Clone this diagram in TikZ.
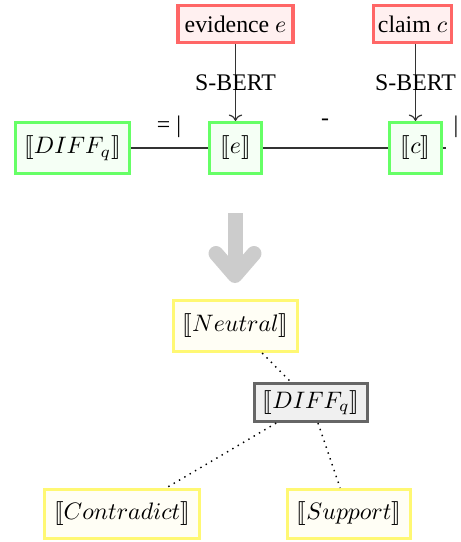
\documentclass[tikz,border=0pt]{standalone}
\usepackage{stmaryrd}
\usepackage{fontspec}
\setmainfont{Liberation Serif}
\usetikzlibrary{arrows.meta}
\newcommand{\pxu}{0.42pt}
\begin{document}
\begin{tikzpicture}[x=0.42pt,y=-0.42pt,
  box/.style={line width=1.3pt, inner sep=0pt, font=\fontsize{10}{12}\selectfont},
  redbox/.style={box, draw=red!60, fill=red!6},
  greenbox/.style={box, draw=green!60, fill=green!4},
  yellowbox/.style={box, draw=yellow!55, fill=yellow!4},
  graybox/.style={box, draw=black!60, fill=black!6},
  lbl/.style={inner sep=0pt},
  conn/.style={draw=black!80, line width=0.5pt},
  dotline/.style={dotted, line width=0.6pt},
  bigarrow/.style={line width=15*\pxu, black!20, -{Straight Barb[round, length=22*\pxu, width=38*\pxu]}}
]
\useasboundingbox (0,0) rectangle (460,542);
% top inputs
\node[redbox, minimum width=115*\pxu, minimum height=37*\pxu] (ev) at (235.5,24) {evidence $e$};
\node[redbox, minimum width=78*\pxu, minimum height=37*\pxu] (cl) at (412.5,24) {claim $c$};
% row of embeddings
\node[greenbox, minimum width=114*\pxu, minimum height=51*\pxu] (diff) at (72.5,148) {$\llbracket DIFF_q\rrbracket$};
\node[greenbox, minimum width=52*\pxu, minimum height=51*\pxu] (e) at (235.5,148) {$\llbracket e\rrbracket$};
\node[greenbox, minimum width=52*\pxu, minimum height=51*\pxu] (c) at (415.5,148) {$\llbracket c\rrbracket$};
\coordinate (stub) at (446,148);
\draw[conn, ->] (ev.south -| e) -- node[lbl] {S-BERT} (e);
\draw[conn, ->] (cl.south -| c) -- node[lbl] {S-BERT} (c);
\draw[conn] (diff) -- (e);
\draw[conn] (e) -- (c);
\draw[conn] (c) -- (stub);
\node[lbl] (l1) at (169,127) {= |};
\node[lbl] (l2) at (325,122) {-};
\node[lbl] (l3) at (456,127) {|};
% big arrow
\coordinate (at) at (235,213);
\coordinate (ab) at (235,283);
\draw[bigarrow] (at) -- (ab);
% tree
\node[yellowbox, minimum width=124*\pxu, minimum height=51*\pxu] (neu) at (235.5,326) {$\llbracket Neutral\rrbracket$};
\node[graybox, minimum width=113*\pxu, minimum height=38*\pxu] (dg) at (311,402.5) {$\llbracket DIFF_q\rrbracket$};
\node[yellowbox, minimum width=155*\pxu, minimum height=49*\pxu] (con) at (122,514) {$\llbracket Contradict\rrbracket$};
\node[yellowbox, minimum width=123*\pxu, minimum height=49*\pxu] (sup) at (349,514) {$\llbracket Support\rrbracket$};
\draw[dotline] (neu) -- (dg);
\draw[dotline] (dg) -- (con);
\draw[dotline] (dg) -- (sup);
\end{tikzpicture}
\end{document}
